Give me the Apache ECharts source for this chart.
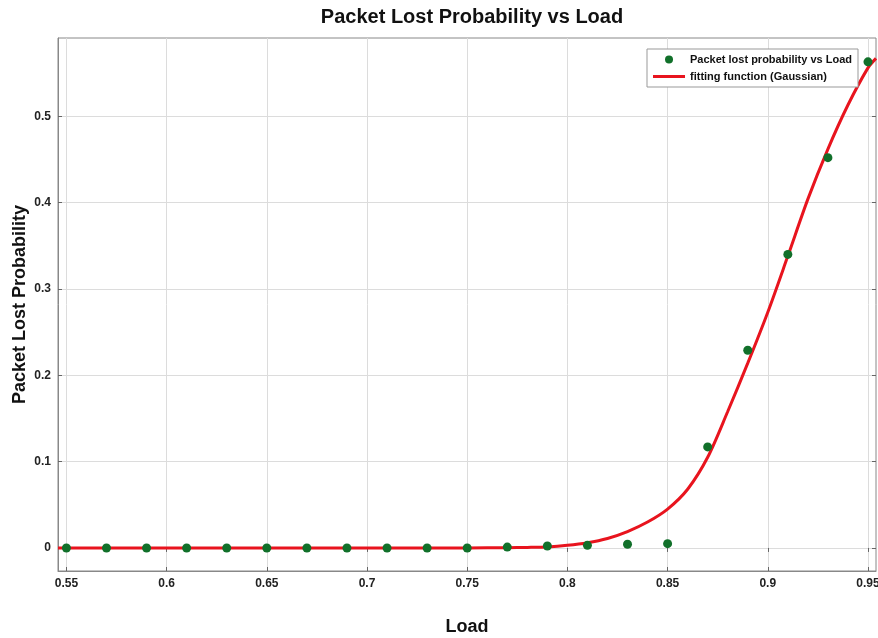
<!DOCTYPE html>
<html>
<head>
<meta charset="utf-8">
<script src="https://cdn.jsdelivr.net/npm/echarts@6/dist/echarts.min.js"></script>
<style>
html,body{margin:0;padding:0;background:#fff;}
#chart{width:878px;height:638px;}
</style>
</head>
<body>
<div id="chart"></div>
<script>
// measured points
var loadX = [0.55,0.57,0.59,0.61,0.63,0.65,0.67,0.69,0.71,0.73,0.75,0.77,0.79,0.81,0.83,0.85,0.87,0.89,0.91,0.93,0.95];
var lostP = [0,0,0,0,0,0,0,0,0,0,0,0.001,0.0023,0.003,0.0043,0.005,0.117,0.229,0.340,0.452,0.563];

// fitted curve
var fitX = [0.5458,0.55,0.60,0.65,0.70,0.75,0.77,0.78,0.79,0.80,0.81,0.82,0.83,0.84,0.85,0.86,0.87,0.88,0.89,0.90,0.91,0.92,0.93,0.94,0.95,0.954];
var fitY = [0,0,0,0,0,0,0.0003,0.0006,0.0012,0.003,0.006,0.011,0.019,0.03,0.045,0.068,0.105,0.158,0.214,0.273,0.338,0.404,0.462,0.513,0.556,0.567];

var xTicks = [0.55,0.6,0.65,0.7,0.75,0.8,0.85,0.9,0.95];
var yTicks = [0,0.1,0.2,0.3,0.4,0.5];

var ptData = [];
for(var i=0;i<loadX.length;i++){ ptData.push([loadX[i],lostP[i]]); }
var fitData = [];
for(var j=0;j<fitX.length;j++){ fitData.push([fitX[j],fitY[j]]); }

var tickLbl = {
    fontFamily:'Liberation Sans',
    fontWeight:'bold',
    fontSize:12,
    color:'#222'
};

var chart = echarts.init(document.getElementById('chart'));
chart.setOption({
    animation:false,
    backgroundColor:'#fff',
    title:{
        text:'Packet Lost Probability vs Load',
        left:467,
        textAlign:'center',
        top:2,
        textStyle:{fontFamily:'Liberation Sans',fontWeight:'bold',fontSize:20,color:'#111'}
    },
    legend:{
        orient:'vertical',
        right:20,
        top:49,
        itemWidth:32,
        itemHeight:8,
        itemGap:6,
        padding:[5,6,5,6],
        backgroundColor:'#fff',
        borderColor:'#999',
        borderWidth:1,
        borderRadius:0,
        textStyle:{fontFamily:'Liberation Sans',fontWeight:'bold',fontSize:11,color:'#111'},
        data:[
            {name:'Packet lost probability vs Load',icon:'circle'},
            {name:'fitting function (Gaussian)',icon:'path://M0,0L32,0L32,3L0,3Z'}
        ]
    },
    grid:{
        left:58,
        right:2,
        top:38,
        bottom:67,
        outerBoundsMode:'none',
        containLabel:false,
        show:true,
        borderColor:'#888',
        borderWidth:1
    },
    xAxis:[
        {
            type:'value',
            min:0.5458,
            max:0.954,
            name:'Load',
            nameLocation:'middle',
            nameGap:47,
            nameMoveOverlap:false,
            nameTextStyle:{fontFamily:'Liberation Sans',fontWeight:'bold',fontSize:18,color:'#111'},
            axisLine:{onZero:false,lineStyle:{color:'#888'}},
            axisTick:{inside:true,length:4,customValues:xTicks,lineStyle:{color:'#666'}},
            axisLabel:Object.assign({customValues:xTicks,margin:7,formatter:function(v){return String(+v.toFixed(2));}},tickLbl),
            splitLine:{show:true,lineStyle:{color:'#dcdcdc',width:1}}
        },
        {
            type:'value',
            position:'top',
            min:0.5458,
            max:0.954,
            axisLine:{show:false},
            axisTick:{inside:true,length:4,customValues:xTicks,lineStyle:{color:'#666'}},
            axisLabel:{show:false},
            splitLine:{show:false}
        }
    ],
    yAxis:[
        {
            type:'value',
            min:-0.0267,
            max:0.5906,
            name:'Packet Lost Probability',
            nameLocation:'middle',
            nameGap:29,
            nameMoveOverlap:false,
            nameRotate:90,
            nameTextStyle:{fontFamily:'Liberation Sans',fontWeight:'bold',fontSize:18,color:'#111'},
            axisLine:{show:true,onZero:false,lineStyle:{color:'#888'}},
            axisTick:{show:true,inside:true,length:4,customValues:yTicks,lineStyle:{color:'#666'}},
            axisLabel:Object.assign({customValues:yTicks,margin:7,formatter:function(v){return String(+v.toFixed(1));}},tickLbl),
            splitLine:{show:true,lineStyle:{color:'#dcdcdc',width:1}}
        },
        {
            type:'value',
            position:'right',
            min:-0.0267,
            max:0.5906,
            axisLine:{show:false},
            axisTick:{show:true,inside:true,length:4,customValues:yTicks,lineStyle:{color:'#666'}},
            axisLabel:{show:false},
            splitLine:{show:false}
        }
    ],
    series:[
        {
            name:'fitting function (Gaussian)',
            type:'line',
            data:fitData,
            smooth:0.3,
            showSymbol:false,
            symbol:'none',
            z:2,
            lineStyle:{color:'#e8141e',width:3},
            itemStyle:{color:'#e8141e'}
        },
        {
            name:'Packet lost probability vs Load',
            type:'scatter',
            data:ptData,
            symbol:'circle',
            symbolSize:9,
            z:3,
            itemStyle:{color:'#11702a',opacity:1}
        }
    ]
});
</script>
</body>
</html>
